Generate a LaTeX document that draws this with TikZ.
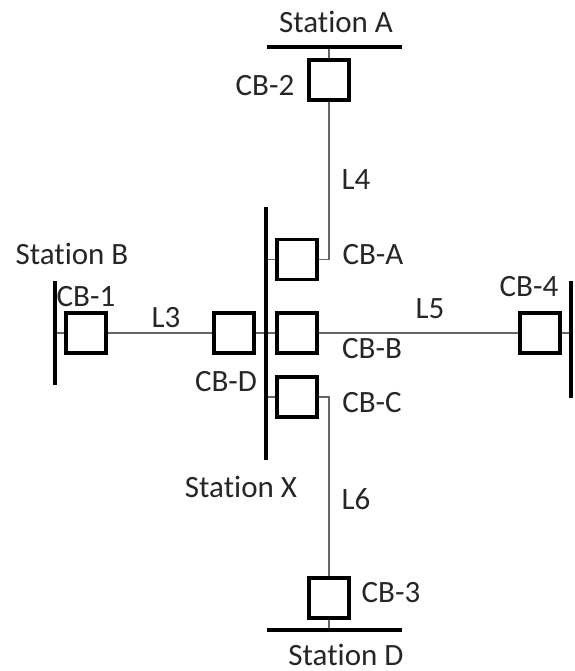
\documentclass[tikz,border=0pt]{standalone}
\usepackage{fontspec}
\setmainfont[Ligatures=NoCommon]{Carlito}
\tikzset{cb/.style={draw, line width=3.2pt, fill=white, rectangle, minimum size=40pt, inner sep=0pt}}
\tikzset{lbl/.style={font=\fontsize{31}{36}\selectfont, text=black!85, inner sep=0pt}}
\tikzset{bus/.style={line width=3.5pt}}
\tikzset{wire/.style={line width=1.3pt, black!60}}

\begin{document}
\begin{tikzpicture}[x=1pt,y=-1pt]
\useasboundingbox (0,0) rectangle (574,671);
% bus bars
\coordinate (busA1) at (267,47);  \coordinate (busA2) at (402,47);
\coordinate (busD1) at (267,630); \coordinate (busD2) at (402,630);
\coordinate (busB1) at (55,281);  \coordinate (busB2) at (55,385);
\coordinate (busF1) at (571,281); \coordinate (busF2) at (571,398);
\coordinate (busX1) at (266,207); \coordinate (busX2) at (266,460);
% breakers
\node[cb] (cb2) at (329,80) {};
\node[cb] (cb3) at (329,598) {};
\node[cb] (cb1) at (86,333) {};
\node[cb] (cb4) at (540,333) {};
\node[cb] (cba) at (297,259.5) {};
\node[cb] (cbb) at (297,333) {};
\node[cb] (cbc) at (297,397) {};
\node[cb] (cbd) at (234,333) {};
% lines
\draw[wire] (cb2.south) |- (cba.east);
\draw[wire] (cb3.north) |- (cbc.east);
\draw[wire] (cb1.east) -- (cbd.west);
\draw[wire] (cbb.east) -- (cb4.west);
\draw[wire] (cbd.east) -- (cbb.west);
\draw[wire] (cba.west) -- (cba.west -| busX1);
\draw[wire] (cbc.west) -- (cbc.west -| busX1);
\draw[wire] (cb1.west) -- (cb1.west -| busB1);
\draw[wire] (cb4.east) -- (cb4.east -| busF1);
\draw[wire] (cb2.north) -- (cb2.north |- busA1);
\draw[wire] (cb3.south) -- (cb3.south |- busD1);
\draw[bus] (busA1) -- (busA2);
\draw[bus] (busD1) -- (busD2);
\draw[bus] (busB1) -- (busB2);
\draw[bus] (busF1) -- (busF2);
\draw[bus] (busX1) -- (busX2);
% labels
\node[lbl] (stA) at (336,22) {Station A};
\node[lbl] (stB) at (72,254) {Station B};
\node[lbl] (stX) at (241,487) {Station X};
\node[lbl] (stD) at (346,655) {Station D};
\node[lbl] (lcb1) at (86,297) {CB-1};
\node[lbl] (lcb2) at (265,86) {CB-2};
\node[lbl] (lcb3) at (391,593) {CB-3};
\node[lbl] (lcb4) at (529,287) {CB-4};
\node[lbl] (lcba) at (373,255) {CB-A};
\node[lbl] (lcbb) at (372,349) {CB-B};
\node[lbl] (lcbc) at (372,403) {CB-C};
\node[lbl] (lcbd) at (226,382) {CB-D};
\node[lbl] (l3) at (166,318) {L3};
\node[lbl] (l4) at (356,180) {L4};
\node[lbl] (l5) at (430,309) {L5};
\node[lbl] (l6) at (356,499) {L6};
\end{tikzpicture}
\end{document}
